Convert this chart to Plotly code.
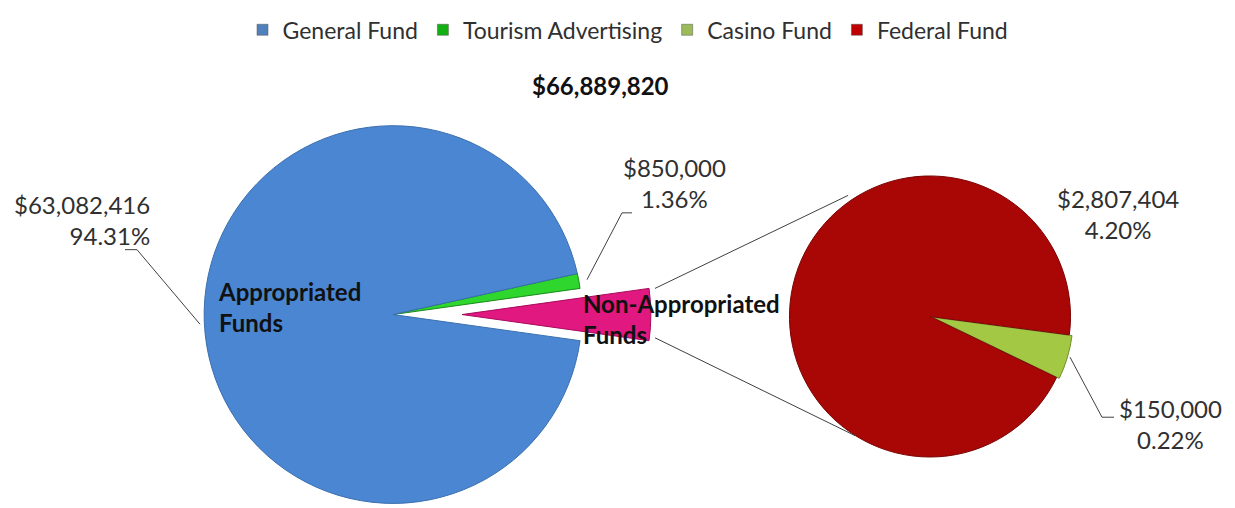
import plotly.graph_objects as go

# data
funds = ["General Fund", "Tourism Advertising", "Casino Fund", "Federal Fund"]
amounts = [63082416, 850000, 150000, 2807404]
pct_labels = [94.31, 1.36, 0.22, 4.20]
fund_colors = ["#4a86d2", "#2ed62e", "#a3c944", "#a90606"]
legend_colors = ["#4f81bd", "#12b012", "#9bbb59", "#c00000"]
group_names = ["Appropriated Funds", "Non-Appropriated Funds"]
pink = "#e0187f"

W, H = 1235, 508
OFF = 8  # page body margin
TY = 6   # text baseline correction
FONT = "Lato"


def px(x):
    return (x - OFF) / W


def py(y):
    return 1 - (y - OFF) / H


total = sum(amounts)
general, tourism, casino, federal = amounts
non_appr = casino + federal
share_non = non_appr / (general + tourism + non_appr)

fig = go.Figure()

# left pie: appropriated funds, the non-appropriated slot left empty
left_vals = [non_appr, tourism, general]
left_rot = 90 - 360 * share_non / 2
left_dom = dict(x=[px(198), px(588)], y=[py(503), py(113)])
fig.add_trace(go.Pie(
    values=left_vals, labels=["Non-Appropriated Funds", funds[1], funds[0]],
    sort=False, direction="counterclockwise", rotation=left_rot,
    marker=dict(colors=["rgba(0,0,0,0)", fund_colors[1], fund_colors[0]],
                line=dict(color=["rgba(0,0,0,0)", "#1a8a1a", "#3a6fae"], width=[0, 1, 1])),
    textinfo="none", hoverinfo="label+value", domain=left_dom, showlegend=False))

# exploded non-appropriated slice
shift = 69 / W
fig.add_trace(go.Pie(
    values=left_vals, labels=["Non-Appropriated Funds", funds[1], funds[0]],
    sort=False, direction="counterclockwise", rotation=left_rot,
    marker=dict(colors=[pink, "rgba(0,0,0,0)", "rgba(0,0,0,0)"],
                line=dict(color=["#a80a5c", "rgba(0,0,0,0)", "rgba(0,0,0,0)"], width=[1, 0, 0])),
    textinfo="none", hoverinfo="label+value",
    domain=dict(x=[left_dom["x"][0] + shift, left_dom["x"][1] + shift], y=left_dom["y"]),
    showlegend=False))

# right pie: breakdown of non-appropriated funds
fig.add_trace(go.Pie(
    values=[casino, federal], labels=[funds[2], funds[3]],
    sort=False, direction="counterclockwise", rotation=97.5,
    pull=[0.02, 0],
    marker=dict(colors=[fund_colors[2], fund_colors[3]],
                line=dict(color=["#6f8f2a", "#7a0303"], width=1)),
    textinfo="none", hoverinfo="label+value",
    domain=dict(x=[px(783), px(1077)], y=[py(458), py(162)]), showlegend=False))

# legend entries
for name, col in zip(funds, legend_colors):
    fig.add_trace(go.Scatter(x=[None], y=[None], mode="markers", name=name,
                             marker=dict(symbol="square", size=11, color=col,
                                         line=dict(color="#555", width=0.5))))

lab = [f"${a:,.0f}<br>{p:.2f}%" for a, p in zip(amounts, pct_labels)]
ann_font = dict(family=FONT, size=24, color="#303030")
annotations = [
    dict(x=px(152), y=py(216 - TY), text=lab[0], xanchor="right", align="right"),
    dict(x=px(675), y=py(178 - TY), text=lab[1], xanchor="center", align="center"),
    dict(x=px(1170), y=py(427 - TY), text=lab[2], xanchor="center", align="center"),
    dict(x=px(1118), y=py(210 - TY), text=lab[3], xanchor="center", align="center"),
]
for a in annotations:
    a.update(xref="paper", yref="paper", yanchor="middle", showarrow=False, font=ann_font)

bold = dict(family=FONT, size=24, color="#111")
annotations += [
    dict(x=px(600), y=py(78 - TY), text=f"<b>${total:,.0f}</b>", xanchor="center"),
    dict(x=px(216), y=py(306 - TY), text="<b>" + group_names[0].replace(" ", "<br>") + "</b>",
         xanchor="left", align="left"),
    dict(x=px(581), y=py(319 - TY), text="<b>" + group_names[1].replace(" ", "<br>") + "</b>",
         xanchor="left", align="left"),
]
for a in annotations[4:]:
    a.update(xref="paper", yref="paper", yanchor="middle", showarrow=False, font=bold)

line = dict(color="#404040", width=1)
shapes = [
    # leader lines
    dict(type="path", path=f"M {px(125)} {py(241)} L {px(137)} {py(241)} L {px(200)} {py(318)}"),
    dict(type="path", path=f"M {px(632)} {py(203)} L {px(622)} {py(203)} L {px(587)} {py(272)}"),
    dict(type="path", path=f"M {px(1070)} {py(352)} L {px(1102)} {py(414)} L {px(1114)} {py(414)}"),
    # connectors between the pies
    dict(type="line", x0=px(655), y0=py(281), x1=px(848), y1=py(185)),
    dict(type="line", x0=px(655), y0=py(332), x1=px(855), y1=py(433)),
]
for s in shapes:
    s.update(xref="paper", yref="paper", line=line)

fig.update_layout(
    width=W, height=H, margin=dict(l=0, r=0, t=0, b=0),
    paper_bgcolor="white", plot_bgcolor="white",
    font=dict(family=FONT, color="#303030"),
    xaxis=dict(visible=False), yaxis=dict(visible=False),
    legend=dict(orientation="h", x=px(628), xanchor="center", y=py(20 - TY), yanchor="middle",
                font=dict(family=FONT, size=23, color="#303030"),
                itemwidth=30, tracegroupgap=0),
    annotations=annotations, shapes=shapes,
)

fig.write_html("out.html")
